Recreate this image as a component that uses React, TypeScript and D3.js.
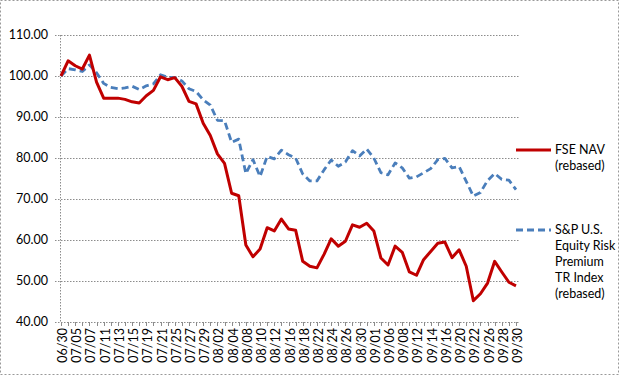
import React from "react";
import * as d3 from "d3";

const dates = [
  "06/30","07/01","07/05","07/06","07/07","07/08","07/11","07/12","07/13","07/14",
  "07/15","07/18","07/19","07/20","07/21","07/22","07/25","07/26","07/27","07/28",
  "07/29","08/01","08/02","08/03","08/04","08/05","08/08","08/09","08/10","08/11",
  "08/12","08/15","08/16","08/17","08/18","08/19","08/22","08/23","08/24","08/25",
  "08/26","08/29","08/30","08/31","09/01","09/02","09/06","09/07","09/08","09/09",
  "09/12","09/13","09/14","09/15","09/16","09/19","09/20","09/21","09/22","09/23",
  "09/26","09/27","09/28","09/29","09/30"
];

const fseNav = [
  100, 103.7, 102.5, 101.7, 105.1, 98.5, 94.6, 94.6, 94.6, 94.3,
  93.7, 93.4, 95.2, 96.5, 99.8, 99.1, 99.6, 97.5, 93.8, 93.2,
  88.5, 85.5, 81.0, 78.7, 71.4, 70.8, 58.8, 55.9, 57.8, 63.0,
  62.2, 65.1, 62.7, 62.4, 54.8, 53.6, 53.2, 56.5, 60.3, 58.5,
  59.7, 63.7, 63.1, 64.1, 62.2, 55.6, 53.9, 58.5, 57.0, 52.2,
  51.4, 55.2, 57.2, 59.2, 59.5, 55.7, 57.6, 53.6, 45.2, 46.9,
  49.5, 54.8, 52.2, 49.7, 48.8
];

const spRisk = [
  100, 101.8, 101.5, 101.1, 102.7, 100.8, 98.2, 97.2, 96.9, 97.1,
  97.5, 96.7, 97.6, 98.1, 100.3, 99.7, 99.6, 98.8, 96.9, 96.2,
  94.2, 92.9, 89.2, 89.1, 83.8, 84.6, 76.2, 79.6, 75.5, 80.4,
  79.8, 81.9, 80.8, 80.0, 76.1, 74.4, 74.4, 77.1, 79.5, 78.0,
  79.0, 81.8, 80.5, 82.2, 80.0, 76.4, 75.9, 78.8, 77.6, 75.1,
  75.4, 76.4, 77.4, 79.6, 79.9, 77.6, 77.9, 74.3, 70.7, 71.6,
  74.5, 76.2, 74.8, 74.6, 72.3
];

const yTicks = [40, 50, 60, 70, 80, 90, 100, 110];

const legendFse = ["FSE NAV", "(rebased)"];
const legendSp = ["S&P U.S.", "Equity Risk", "Premium", "TR Index", "(rebased)"];

const W = 620;
const H = 376;
const font = "Lato, 'Open Sans', sans-serif";

export default function App() {
  const x = d3.scaleLinear().domain([0, dates.length - 1]).range([61, 516]);
  const y = d3.scaleLinear().domain([40, 110]).range([322, 35]);
  const line = d3
    .line<number>()
    .x((_, i) => x(i))
    .y((d) => y(d));

  const gridColor = "#8c8c8c";

  return (
    <svg
      width={W}
      height={H}
      style={{ position: "absolute", left: 0, top: 0, display: "block", background: "#fff" }}
    >
      <rect x={0.5} y={0.5} width={W - 2} height={H - 2} fill="#fff" stroke="#999" strokeDasharray="2,2" />
      {yTicks.map((t) => (
        <g key={t}>
          <line
            x1={55}
            x2={519}
            y1={Math.round(y(t)) + 0.5}
            y2={Math.round(y(t)) + 0.5}
            stroke={gridColor}
            strokeDasharray="1.5,1.5"
          />
          <text
            x={48}
            y={y(t)}
            dy="0.35em"
            textAnchor="end"
            fontFamily={font}
            fontSize={12.5}
            fill="#000"
          >
            {t.toFixed(2)}
          </text>
        </g>
      ))}
      <line x1={60.5} x2={60.5} y1={35} y2={322} stroke={gridColor} strokeDasharray="1.5,1.5" />
      {dates.map((d, i) => (
        <line
          key={"tk" + i}
          x1={Math.round(x(i)) + 0.5}
          x2={Math.round(x(i)) + 0.5}
          y1={322}
          y2={326}
          stroke={gridColor}
        />
      ))}
      {dates.map((d, i) =>
        i % 2 === 0 ? (
          <text
            key={"xl" + i}
            transform={`translate(${x(i) + 6},${328}) rotate(-90)`}
            textAnchor="end"
            fontFamily={font}
            fontSize={12.5}
            fill="#000"
          >
            {d}
          </text>
        ) : null
      )}
      <path
        d={line(spRisk) || ""}
        fill="none"
        stroke="#4a7ebb"
        strokeWidth={2.8}
        strokeDasharray="7,4"
        strokeLinejoin="round"
      />
      <path
        d={line(fseNav) || ""}
        fill="none"
        stroke="#c00000"
        strokeWidth={3}
        strokeLinejoin="round"
      />
      <line x1={516} x2={551} y1={150} y2={150} stroke="#c00000" strokeWidth={3} />
      {legendFse.map((s, i) => (
        <text key={"lf" + i} x={555} y={150 + i * 16} dy="0.35em" fontFamily={font} fontSize={12.5} fill="#000">
          {s}
        </text>
      ))}
      <line x1={516} x2={551} y1={230} y2={230} stroke="#4a7ebb" strokeWidth={2.8} strokeDasharray="7,4" />
      {legendSp.map((s, i) => (
        <text key={"ls" + i} x={555} y={230 + i * 16} dy="0.35em" fontFamily={font} fontSize={12.5} fill="#000">
          {s}
        </text>
      ))}
    </svg>
  );
}
